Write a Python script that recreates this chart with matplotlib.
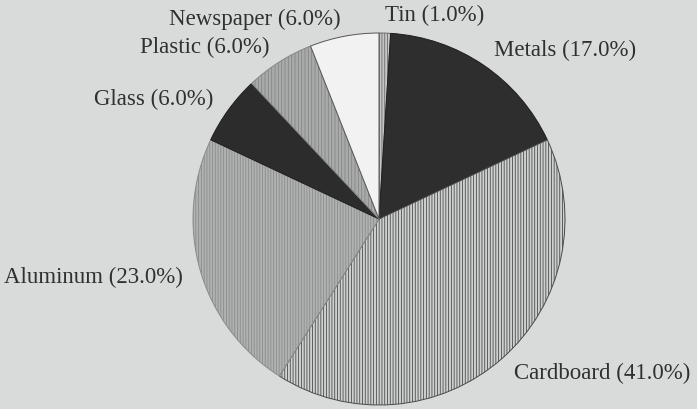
import matplotlib.pyplot as plt

# recycling mix (percent)
materials = ['Tin', 'Metals', 'Cardboard', 'Aluminum', 'Glass', 'Plastic', 'Newspaper']
shares = [1.0, 17.0, 41.0, 23.0, 6.0, 6.0, 6.0]

fills = ['#c4c6c6', '#2e2e2e', '#cfd1d1', '#b0b2b2', '#2c2c2c', '#a9abab', '#f2f2f2']
lines = ['#6a6a6a', '#1e1e1e', '#4a4a4a', '#8a8c8c', '#1e1e1e', '#858787', '#555555']
hatches = ['||||||', '', '||||||', '||||||', '', '|||||', '']

plt.rcParams['hatch.linewidth'] = 0.6
bg = '#d9dbdb'

fig = plt.figure(figsize=(6.97, 4.10), dpi=100, facecolor=bg)
# axes sized so the pie (radius 1) is about 186 px, centred at (379, 220)
ax = fig.add_axes([(379 - 232.5) / 697, (190 - 232.5) / 410, 465 / 697, 465 / 410])
ax.set_facecolor(bg)

labels = ['%s (%.1f%%)' % (m, s) for m, s in zip(materials, shares)]
wedges, texts = ax.pie(shares, labels=labels, startangle=90, counterclock=False,
                       labeldistance=1.1, colors=fills,
                       wedgeprops=dict(linewidth=0.7),
                       textprops=dict(family='Liberation Serif', fontsize=16.5,
                                      color='#303030'))
for w, lc, h in zip(wedges, lines, hatches):
    w.set_edgecolor(lc)
    w.set_hatch(h)

ax.set_xlim(-1.25, 1.25)
ax.set_ylim(-1.25, 1.25)
ax.set_aspect('auto')
ax.axis('off')

fig.savefig('out.png', dpi=100, facecolor=bg)
